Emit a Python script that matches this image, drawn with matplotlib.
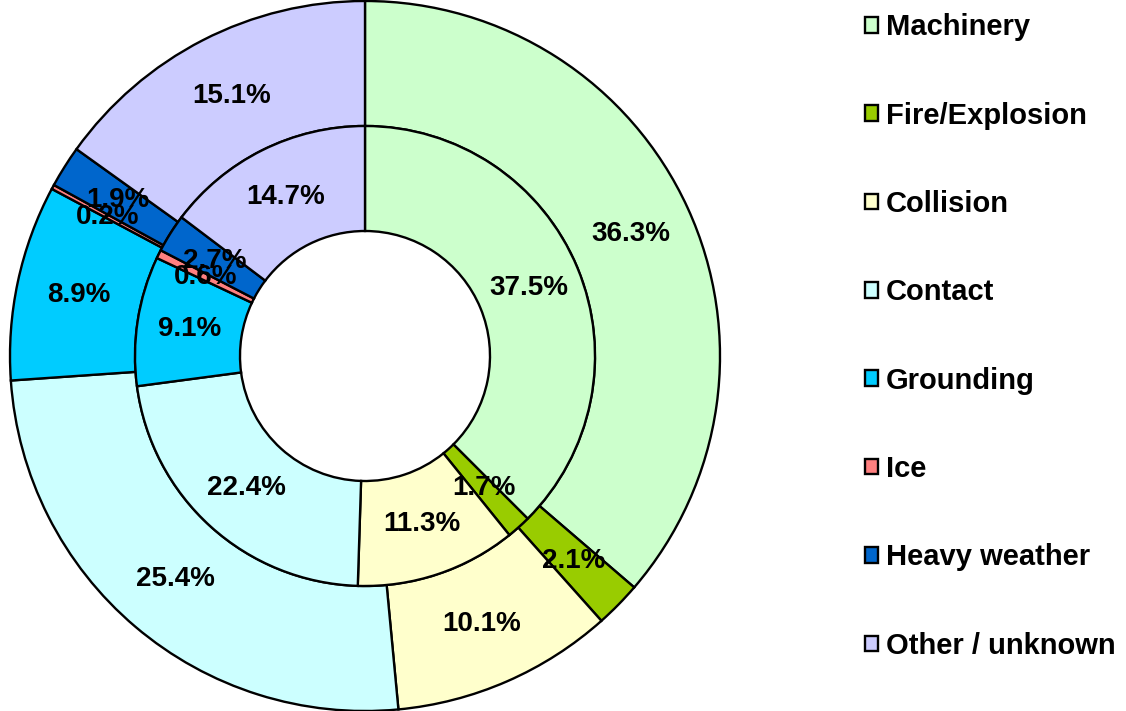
import matplotlib.pyplot as plt
from matplotlib.patches import Patch

plt.rcParams['font.family'] = ['Liberation Sans', 'DejaVu Sans']

categories = ['Machinery', 'Fire/Explosion', 'Collision', 'Contact',
              'Grounding', 'Ice', 'Heavy weather', 'Other / unknown']
outer_vals = [36.3, 2.1, 10.1, 25.4, 8.9, 0.2, 1.9, 15.1]
inner_vals = [37.5, 1.7, 11.3, 22.4, 9.1, 0.6, 2.7, 14.7]
colors = ['#CCFFCC', '#99CC00', '#FFFFCC', '#CCFFFF',
          '#00CCFF', '#FF8080', '#0066CC', '#CCCCFF']

fig = plt.figure(figsize=(11.26, 7.11), dpi=100)
# centre at about (365, 355) px, outer radius ~355 px
ax = fig.add_axes([10 / 1126, 0.0, 710 / 1126, 710 / 711])

R = 1.0
w_out = 125 / 355
w_in = 105 / 355
r_in = R - w_out

wedge_kw = dict(edgecolor='black', linewidth=1.7)
txt_kw = dict(fontsize=20, fontweight='bold', color='black')

ax.pie(outer_vals, radius=R, colors=colors, startangle=90, counterclock=False,
       wedgeprops=dict(width=w_out, **wedge_kw),
       labels=None, autopct='%1.1f%%', pctdistance=(R - w_out / 2) / R,
       textprops=txt_kw)
ax.pie(inner_vals, radius=r_in, colors=colors, startangle=90, counterclock=False,
       wedgeprops=dict(width=w_in, **wedge_kw),
       labels=None, autopct='%1.1f%%', pctdistance=(r_in - w_in / 2) / r_in,
       textprops=txt_kw)
ax.set_xlim(-1.0, 1.0)
ax.set_ylim(-1.0, 1.0)
ax.set_aspect('equal')
ax.axis('off')

handles = [Patch(facecolor=c, edgecolor='black', linewidth=1.7) for c in colors]
fig.legend(handles, categories, loc='upper left', bbox_to_anchor=(852 / 1126, 1.0),
           frameon=False, prop=dict(size=21, weight='bold'),
           handlelength=0.45, handleheight=0.45, handletextpad=0.27,
           labelspacing=2.07, borderaxespad=0.05)

fig.savefig('out.png', dpi=100)
